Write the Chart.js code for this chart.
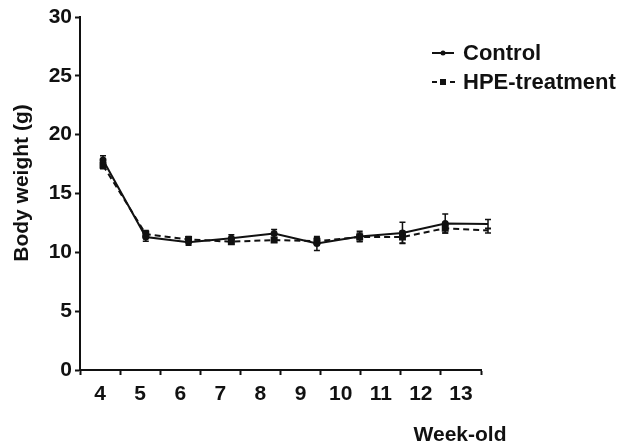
<!DOCTYPE html>
<html>
<head>
<meta charset="utf-8">
<script src="https://cdn.jsdelivr.net/npm/chart.js@4.4.0/dist/chart.umd.min.js"></script>
<style>
    html, body { margin: 0; padding: 0; background: #fff; }
    #wrap { width: 619px; height: 447px; position: relative; }
</style>
</head>
<body>
<div id="wrap"><canvas id="weightChart"></canvas></div>
<script>
// Data
var weekLabels = ['4', '5', '6', '7', '8', '9', '10', '11', '12', '13'];
var weeks = [4, 5, 6, 7, 8, 9, 10, 11, 12, 13];
var controlMean = [17.85, 11.3, 10.85, 11.2, 11.6, 10.75, 11.35, 11.65, 12.45, 12.4];
var controlErr = [0.35, 0.35, 0.25, 0.3, 0.35, 0.6, 0.45, 0.9, 0.8, 0.4];
var hpeMean = [17.4, 11.55, 11.1, 10.9, 11.05, 10.95, 11.3, 11.3, 12.05, 11.85];
var hpeErr = [0.3, 0.3, 0.25, 0.2, 0.2, 0.3, 0.35, 0.5, 0.4, 0.2];
var yTicks = [0, 5, 10, 15, 20, 25, 30];

var FONT = "'Liberation Sans', Arial, sans-serif";
var INK = '#111';

function toPoints(xs, ys) {
    return xs.map(function(x, i) { return { x: x, y: ys[i] }; });
}

// error bars + legend + axis titles
var extras = {
    id: 'extras',
    afterDatasetsDraw: function(chart) {
        var ctx = chart.ctx;
        var xs = chart.scales.xd, ys = chart.scales.y;
        var sets = [[controlMean, controlErr], [hpeMean, hpeErr]];
        ctx.save();
        ctx.strokeStyle = INK;
        ctx.lineWidth = 1.5;
        sets.forEach(function(s) {
            weeks.forEach(function(w, i) {
                var px = xs.getPixelForValue(w);
                var top = ys.getPixelForValue(s[0][i] + s[1][i]);
                var bot = ys.getPixelForValue(s[0][i] - s[1][i]);
                ctx.beginPath();
                ctx.moveTo(px, top); ctx.lineTo(px, bot);
                ctx.moveTo(px - 3, top); ctx.lineTo(px + 3, top);
                ctx.moveTo(px - 3, bot); ctx.lineTo(px + 3, bot);
                ctx.stroke();
            });
        });
        ctx.restore();
    },
    afterDraw: function(chart) {
        var ctx = chart.ctx;
        ctx.save();
        ctx.fillStyle = INK;
        ctx.strokeStyle = INK;

        // legend
        ctx.font = 'bold 22px ' + FONT;
        ctx.textBaseline = 'middle';
        ctx.textAlign = 'left';
        ctx.lineWidth = 2;
        ctx.beginPath();
        ctx.moveTo(432, 53); ctx.lineTo(454, 53);
        ctx.stroke();
        ctx.beginPath(); ctx.arc(443, 53, 2.5, 0, Math.PI * 2); ctx.fill();
        ctx.fillText('Control', 463, 54);

        ctx.setLineDash([5, 4]);
        ctx.beginPath();
        ctx.moveTo(432, 82); ctx.lineTo(455, 82);
        ctx.stroke();
        ctx.setLineDash([]);
        ctx.fillRect(440, 79, 6, 6);
        ctx.fillText('HPE-treatment', 463, 83);

        // axis titles
        ctx.font = 'bold 21px ' + FONT;
        ctx.textAlign = 'center';
        ctx.fillText('Week-old', 460, 435);
        ctx.translate(22, 183);
        ctx.rotate(-Math.PI / 2);
        ctx.fillText('Body weight (g)', 0, 0);
        ctx.restore();
    }
};

new Chart(document.getElementById('weightChart'), {
    type: 'line',
    data: {
        labels: weekLabels,
        datasets: [
            {
                label: 'Control',
                data: toPoints(weeks, controlMean),
                xAxisID: 'xd',
                borderColor: INK,
                backgroundColor: INK,
                borderWidth: 2,
                pointStyle: 'circle',
                pointRadius: 2.5,
                tension: 0,
                clip: false
            },
            {
                label: 'HPE-treatment',
                data: toPoints(weeks, hpeMean),
                xAxisID: 'xd',
                borderColor: INK,
                backgroundColor: INK,
                borderWidth: 2,
                borderDash: [6, 4],
                pointStyle: 'rect',
                pointRadius: 3.5,
                tension: 0,
                clip: false
            }
        ]
    },
    options: {
        responsive: true,
        maintainAspectRatio: false,
        animation: false,
        layout: { padding: { top: 17, right: 138, left: 0, bottom: 0 } },
        plugins: { legend: { display: false }, tooltip: { enabled: false } },
        scales: {
            x: {
                type: 'category',
                offset: true,
                grid: {
                    offset: true,
                    drawOnChartArea: false,
                    drawTicks: true,
                    tickLength: 5,
                    tickWidth: 2,
                    tickColor: INK
                },
                border: { display: true, color: INK, width: 2 },
                ticks: {
                    color: INK,
                    padding: 7,
                    maxRotation: 0,
                    font: { family: FONT, size: 21, weight: 'bold' }
                },
                afterFit: function(scale) { scale.height = 77; }
            },
            xd: {
                type: 'linear',
                display: false,
                min: 3.462,
                max: 12.836
            },
            y: {
                min: 0,
                max: 30,
                afterBuildTicks: function(scale) {
                    scale.ticks = yTicks.map(function(v) { return { value: v }; });
                },
                grid: {
                    drawOnChartArea: false,
                    drawTicks: true,
                    tickLength: 5,
                    tickWidth: 2,
                    tickColor: INK
                },
                border: { display: true, color: INK, width: 2 },
                ticks: {
                    color: INK,
                    padding: 3,
                    font: { family: FONT, size: 21, weight: 'bold' }
                },
                afterFit: function(scale) { scale.width = 80; }
            }
        }
    },
    plugins: [extras]
});
</script>
</body>
</html>
